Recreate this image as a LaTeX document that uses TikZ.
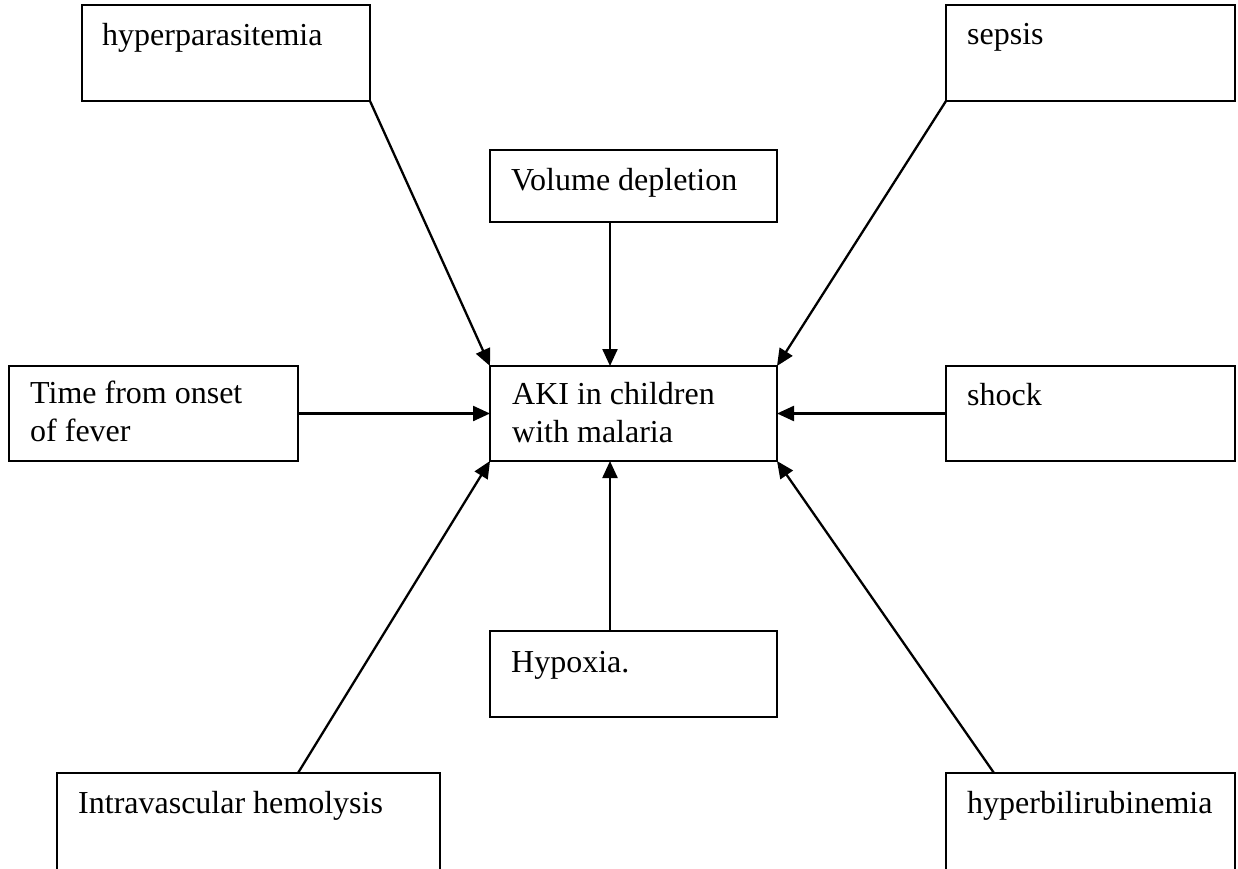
\documentclass[tikz,border=0pt]{standalone}
\usepackage{fontspec}
\setmainfont{Liberation Serif}
\usetikzlibrary{arrows.meta}
\begin{document}
\begin{tikzpicture}[x=1pt,y=-1pt,
  box/.style={draw, line width=2.3pt, rectangle, inner sep=0pt, outer sep=0pt, anchor=north west},
  lbl/.style={anchor=base west, inner sep=0pt, font=\fontsize{32}{38}\selectfont, align=left},
  arr/.style={line width=2.3pt, -{Triangle[length=17pt,width=15pt]}}]
\useasboundingbox (0,0) rectangle (1238,869);
\clip (0,0) rectangle (1238,869);
% boxes
\node[box, minimum width=288pt, minimum height=96pt] (hp) at (82,5) {};
\node[box, minimum width=289pt, minimum height=96pt] (se) at (946,5) {};
\node[box, minimum width=287pt, minimum height=72pt] (vd) at (490,150) {};
\node[box, minimum width=289pt, minimum height=95pt] (tf) at (9,366) {};
\node[box, minimum width=287pt, minimum height=95pt] (aki) at (490,366) {};
\node[box, minimum width=289pt, minimum height=95pt] (sh) at (946,366) {};
\node[box, minimum width=287pt, minimum height=86pt] (hy) at (490,631) {};
\node[box, minimum width=383pt, minimum height=112pt] (ih) at (57,773) {};
\node[box, minimum width=289pt, minimum height=112pt] (hb) at (946,773) {};
% texts (multi-line nodes: base = baseline of the last line)
\node[lbl] (hpt) at (102,46) {hyperparasitemia};
\node[lbl] (set) at (967,45) {sepsis};
\node[lbl] (vdt) at (511,190) {Volume depletion};
\node[lbl] (tft) at (30,441) {Time from onset\\of fever};
\node[lbl] (akit) at (512,442) {AKI in children\\with malaria};
\node[lbl] (sht) at (967,405) {shock};
\node[lbl] (hyt) at (511,672) {Hypoxia.};
\node[lbl] (iht) at (78,813) {Intravascular hemolysis};
\node[lbl] (hbt) at (967,813) {hyperbilirubinemia};
% helper coordinates
\coordinate (midx) at (610,0);
\coordinate (ihx) at (298,0);
\coordinate (hbx) at (994,0);
% connectors
\draw[arr] (hp.south east) -- (aki.north west);
\draw[arr] (se.south west) -- (aki.north east);
\draw[arr] (vd.south -| midx) -- (aki.north -| midx);
\draw[arr] (tf.east) -- (aki.west);
\draw[arr] (sh.west) -- (aki.east);
\draw[arr] (hy.north -| midx) -- (aki.south -| midx);
\draw[arr] (ih.north -| ihx) -- (aki.south west);
\draw[arr] (hb.north -| hbx) -- (aki.south east);
\end{tikzpicture}
\end{document}
